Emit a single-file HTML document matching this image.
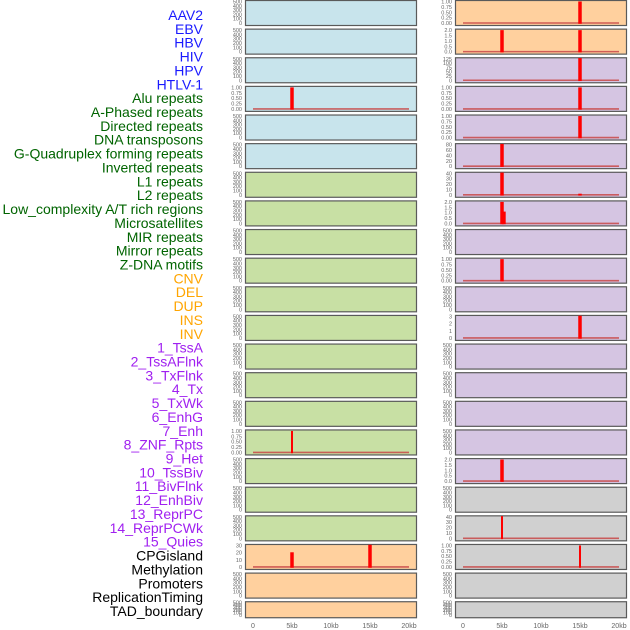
<!DOCTYPE html>
<html><head><meta charset="utf-8">
<style>
html,body{margin:0;padding:0;background:#fff;}
svg{display:block;font-family:"Liberation Sans",sans-serif;}
</style></head>
<body>
<svg id="chart" width="630" height="630" viewBox="0 0 630 630" xmlns="http://www.w3.org/2000/svg">
<g id="labels"></g>
<g id="panels"></g>
<g id="xaxis"></g>
</svg>
<script>
const trackLabels = ["AAV2","EBV","HBV","HIV","HPV","HTLV-1","Alu repeats","A-Phased repeats","Directed repeats","DNA transposons","G-Quadruplex forming repeats","Inverted repeats","L1 repeats","L2 repeats","Low_complexity A/T rich regions","Microsatellites","MIR repeats","Mirror repeats","Z-DNA motifs","CNV","DEL","DUP","INS","INV","1_TssA","2_TssAFlnk","3_TxFlnk","4_Tx","5_TxWk","6_EnhG","7_Enh","8_ZNF_Rpts","9_Het","10_TssBiv","11_BivFlnk","12_EnhBiv","13_ReprPC","14_ReprPCWk","15_Quies","CPGisland","Methylation","Promoters","ReplicationTiming","TAD_boundary"];
const labelGroups = ["v","v","v","v","v","v","r","r","r","r","r","r","r","r","r","r","r","r","r","s","s","s","s","s","c","c","c","c","c","c","c","c","c","c","c","c","c","c","c","o","o","o","o","o"];
const groupColors = {v:"#1a1aff",r:"#006400",s:"#ffa500",c:"#a020f0",o:"#000000"};
const xTicks = [0,5,10,15,20];
const xTickLabels = ["0","5kb","10kb","15kb","20kb"];
// column 1 panels
const col1Bg = ["b","b","b","b","b","b","g","g","g","g","g","g","g","g","g","g","g","g","g","o","o","o"];
const col1Ticks = [null,null,null,[0,0.25,0.5,0.75,1],null,null,null,null,null,null,null,null,null,null,null,[0,0.25,0.5,0.75,1],null,null,null,[0,10,20,30],null,null];
const col1Pos = [[],[],[],[5],[],[],[],[],[],[],[],[],[],[],[],[5],[],[],[],[5,15],[],[]];
const col1Val = [[],[],[],[1],[],[],[],[],[],[],[],[],[],[],[],[1],[],[],[],[20.5,31],[],[]];
const col1Thin = [0,0,0,0,0,0,0,0,0,0,0,0,0,0,0,1,0,0,0,0,0,0];
// column 2 panels
const col2Bg = ["o","o","p","p","p","p","p","p","p","p","p","p","p","p","p","p","p","k","k","k","k","k"];
const col2Ticks = [[0,0.25,0.5,0.75,1],[0,0.5,1,1.5,2],[0,25,50,75,100,125],[0,0.25,0.5,0.75,1],[0,0.25,0.5,0.75,1],[0,20,40,60,80],[0,10,20,30,40],[0,0.5,1,1.5,2],null,[0,0.25,0.5,0.75,1],null,[0,1,2,3],null,null,null,null,[0,0.5,1,1.5,2],null,[0,10,20,30,40],[0,0.25,0.5,0.75,1],null,null];
const col2Pos = [[15],[5,15],[15],[15],[15],[5],[5,15],[5,5.25],[],[5],[],[15],[],[],[],[],[5],[],[5],[15],[],[]];
const col2Val = [[1],[2,2],[130],[1],[1],[85],[45,2],[2,1.1],[],[1],[],[3.2],[],[],[],[],[2],[],[45],[1],[],[]];
const col2Thin = [0,0,0,0,0,0,0,0,0,0,0,0,0,0,0,0,0,0,1,1,0,0];
const emptyTicks = [0,100,200,300,400,500];
const bgColors = {b:"#c8e4ec",g:"#c8e0a4",o:"#ffd09e",p:"#d5c5e2",k:"#d0d0d0"};

const NS="http://www.w3.org/2000/svg";
function mk(tag,attrs,parent){const e=document.createElementNS(NS,tag);for(const k in attrs)e.setAttribute(k,attrs[k]);parent.appendChild(e);return e;}

const labelsG=document.getElementById('labels');
trackLabels.forEach((t,i)=>{
  const el=mk('text',{x:203,y:15+i*13.86+5,'text-anchor':'end','font-size':'14',fill:groupColors[labelGroups[i]]},labelsG);
  el.textContent=t;
  
  
});

const panelsG=document.getElementById('panels');
const rowStep=28.63;
function drawCol(colIdx,px,bgs,ticks,pos,vals,thin){
  const pw=171, x0=px+8, x1=px+164;
  const xs=v=>x0+(v/20)*(x1-x0);
  bgs.forEach((b,i)=>{
    const top=i*rowStep, h=(i===21)?16:25;
    const g=mk('g',{},panelsG);
    
    
    mk('rect',{x:px+0.5,y:top+0.5,width:pw,height:h,fill:bgColors[b],stroke:'#5a5a5a','stroke-width':1.2},g);
    const tk=ticks[i]||emptyTicks;
    const tmax=tk[tk.length-1];
    const yTop=top+1.5, yBot=top+h-2;
    const ys=v=>yBot-(Math.min(v,tmax*1.05)/tmax)*(yBot-yTop);
    tk.forEach(t=>{
      const lab=mk('text',{x:px-3,y:ys(t)+2,'text-anchor':'end','font-size':'5.5',fill:'#666'},g);
      lab.textContent=(tmax<=2&&tk.length===5)?(tmax===1?t.toFixed(2):t.toFixed(1)):String(t);
      
      
    });
    if(pos[i].length){
      const base=mk('line',{x1:xs(0),x2:xs(20),y1:yBot,y2:yBot,stroke:'#c84848','stroke-width':1.6,'stroke-opacity':0.85},g);
      
      
      pos[i].forEach((p,j)=>{
        const w=thin[i]?2:3.5;
        const yv=Math.max(ys(vals[i][j]),top+0.8);
        const bar=mk('rect',{x:xs(p)-w/2,y:yv,width:w,height:yBot+0.8-yv,fill:'#ff0000'},g);
        
        
      });
    }
  });
  const xg=document.getElementById('xaxis');
  xTicks.forEach((t,k)=>{
    const tl=mk('text',{x:xs(t),y:628,'text-anchor':'middle','font-size':'7',fill:'#666'},xg);
    tl.textContent=xTickLabels[k];
    
    
  });
}
drawCol(1,245,col1Bg,col1Ticks,col1Pos,col1Val,col1Thin);
drawCol(2,455,col2Bg,col2Ticks,col2Pos,col2Val,col2Thin);
</script>
</body></html>
